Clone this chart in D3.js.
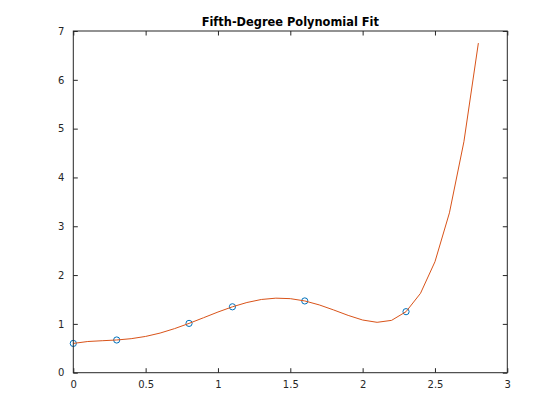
<!DOCTYPE html>
<html>
<head>
<meta charset="utf-8">
<script src="https://cdn.jsdelivr.net/npm/d3@7"></script>
<style>
  html, body { margin: 0; padding: 0; background: #ffffff; }
  svg { display: block; }
  text { font-family: "DejaVu Sans", sans-serif; }
</style>
</head>
<body>
<div id="chart"></div>
<script>
// Data points (markers)
const dataX = [0, 0.3, 0.8, 1.1, 1.6, 2.3];
const dataY = [0.6, 0.67, 1.01, 1.35, 1.47, 1.25];

// Fitted curve values (x step 0.1)
const fitX = [0, 0.1, 0.2, 0.3, 0.4, 0.5, 0.6, 0.7, 0.8, 0.9, 1.0, 1.1, 1.2, 1.3, 1.4,
              1.5, 1.6, 1.7, 1.8, 1.9, 2.0, 2.1, 2.2, 2.3, 2.4, 2.5, 2.6, 2.7, 2.8];
const fitY = [0.600, 0.639, 0.655, 0.670, 0.697, 0.743, 0.812, 0.903, 1.010, 1.126, 1.243,
              1.350, 1.438, 1.500, 1.527, 1.517, 1.470, 1.389, 1.285, 1.174, 1.079, 1.032,
              1.072, 1.250, 1.626, 2.273, 3.275, 4.731, 6.752];

const xTicks = [0, 0.5, 1, 1.5, 2, 2.5, 3];
const xTickLabels = ["0", "0.5", "1", "1.5", "2", "2.5", "3"];
const yTicks = [0, 1, 2, 3, 4, 5, 6, 7];
const yTickLabels = ["0", "1", "2", "3", "4", "5", "6", "7"];
const titleText = "Fifth-Degree Polynomial Fit";

(function () {
const W = 560, H = 420;
const mLeft = 73.3, mRight = 507.3, mTop = 31, mBottom = 372.7;
const axisColor = "#262626";
const tickLen = 4.5;

const svg = d3.select("#chart").append("svg")
  .attr("width", W).attr("height", H);

const x = d3.scaleLinear().domain([0, 3]).range([mLeft, mRight]);
const y = d3.scaleLinear().domain([0, 7]).range([mBottom, mTop]);

// Markers (drawn first, line on top)
svg.append("g").selectAll("circle")
  .data(dataX.map((d, i) => [d, dataY[i]]))
  .enter().append("circle")
  .attr("cx", d => x(d[0]))
  .attr("cy", d => y(d[1]))
  .attr("r", 3.1)
  .attr("fill", "none")
  .attr("stroke", "#0072BD")
  .attr("stroke-width", 1);

// Fitted line
const line = d3.line().x(d => x(d[0])).y(d => y(d[1]));
svg.append("path")
  .datum(fitX.map((d, i) => [d, fitY[i]]))
  .attr("d", line)
  .attr("fill", "none")
  .attr("stroke", "#D95319")
  .attr("stroke-width", 1);

// Axes box
svg.append("rect")
  .attr("x", mLeft).attr("y", mTop)
  .attr("width", mRight - mLeft).attr("height", mBottom - mTop)
  .attr("fill", "none").attr("stroke", axisColor).attr("stroke-width", 1);

// Bottom axis
const xAxisB = d3.axisBottom(x).tickValues(xTicks)
  .tickFormat((d, i) => xTickLabels[i]).tickSizeInner(-tickLen).tickSizeOuter(0).tickPadding(8);
const gxb = svg.append("g").attr("transform", `translate(0,${mBottom})`).call(xAxisB);
gxb.select(".domain").remove();
gxb.selectAll("line").attr("stroke", axisColor);
gxb.selectAll("text").attr("fill", axisColor).attr("font-size", "10px")
  .attr("font-family", "DejaVu Sans, sans-serif");

// Top axis ticks
const xAxisT = d3.axisTop(x).tickValues(xTicks).tickFormat("").tickSizeInner(-tickLen).tickSizeOuter(0);
const gxt = svg.append("g").attr("transform", `translate(0,${mTop})`).call(xAxisT);
gxt.select(".domain").remove();
gxt.selectAll("line").attr("stroke", axisColor);

// Left axis
const yAxisL = d3.axisLeft(y).tickValues(yTicks)
  .tickFormat((d, i) => yTickLabels[i]).tickSizeInner(-tickLen).tickSizeOuter(0).tickPadding(9);
const gyl = svg.append("g").attr("transform", `translate(${mLeft},0)`).call(yAxisL);
gyl.select(".domain").remove();
gyl.selectAll("line").attr("stroke", axisColor);
gyl.selectAll("text").attr("fill", axisColor).attr("font-size", "10px")
  .attr("font-family", "DejaVu Sans, sans-serif");

// Right axis ticks
const yAxisR = d3.axisRight(y).tickValues(yTicks).tickFormat("").tickSizeInner(-tickLen).tickSizeOuter(0);
const gyr = svg.append("g").attr("transform", `translate(${mRight},0)`).call(yAxisR);
gyr.select(".domain").remove();
gyr.selectAll("line").attr("stroke", axisColor);

// Title
svg.append("text")
  .attr("x", (mLeft + mRight) / 2)
  .attr("y", 25.5)
  .attr("text-anchor", "middle")
  .attr("font-size", "11.4px")
  .attr("font-weight", "bold")
  .attr("fill", "#000000")
  .text(titleText);
})();
</script>
</body>
</html>
